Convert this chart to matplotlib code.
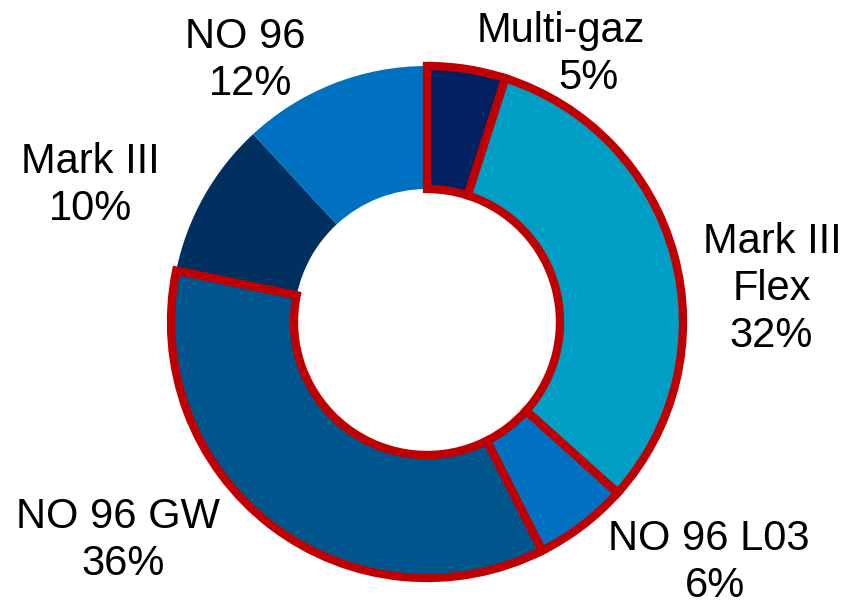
import matplotlib
matplotlib.use("Agg")
import matplotlib.pyplot as plt

# data (clockwise from 12 o'clock)
labels = ["Multi-gaz", "Mark III\nFlex", "NO 96 L03", "NO 96 GW", "Mark III", "NO 96"]
values = [5, 32, 6, 36, 10, 12]
colors = ["#002060", "#009DC4", "#0070C0", "#00558C", "#003060", "#0070C0"]
outlined = [True, True, True, True, False, False]

# label anchors in pixels (x of line centre, baseline of first line from top)
name_pos = [(561, 42), (772, 253), (709, 550), (118, 528), (90, 173), (245, 48)]
pct_x = [588, 771, 715, 123, 90, 251]

W, H = 848, 606
fig = plt.figure(figsize=(W / 100, H / 100), dpi=100)
ax = fig.add_axes([0, 0, 1, 1])

cx, cy = 427, H - 322
R = 256
wedges, _ = ax.pie(values, colors=colors, startangle=90, counterclock=False,
                   center=(cx, cy), radius=R,
                   wedgeprops=dict(width=123, linewidth=0))

# red outline on the first four slices, drawn on top
for w, flag in zip(wedges, outlined):
    if flag:
        w.set_edgecolor("#C00000")
        w.set_linewidth(6)
        w.set_zorder(3)

ax.set_xlim(0, W)
ax.set_ylim(0, H)
ax.set_aspect("equal")
ax.axis("off")

line_h = 47
for lab, v, (x, y), px in zip(labels, values, name_pos, pct_x):
    lines = lab.split("\n")
    for i, ln in enumerate(lines):
        ax.text(x, H - (y + i * line_h), ln, ha="center", va="baseline",
                fontsize=30, family="Liberation Sans", color="black")
    ax.text(px, H - (y + len(lines) * line_h), f"{v}%", ha="center", va="baseline",
            fontsize=30, family="Liberation Sans", color="black")

fig.savefig("out.png", dpi=100, facecolor="white")
